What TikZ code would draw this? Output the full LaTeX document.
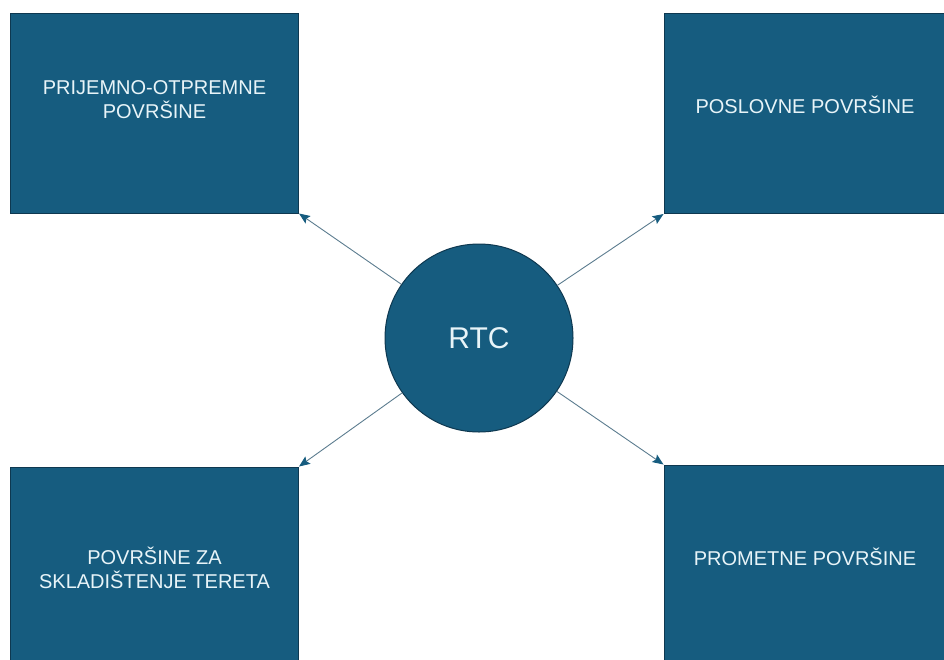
\documentclass[tikz,border=0pt]{standalone}
\usepackage{fontspec}
\setmainfont{Liberation Sans}
\usetikzlibrary{arrows.meta}
\definecolor{rtcblue}{RGB}{22,92,127}
\definecolor{rtcedge}{RGB}{14,56,80}
\definecolor{rtcline}{RGB}{92,124,143}
\definecolor{rtctext}{RGB}{232,244,248}
\tikzset{
  area/.style={draw=rtcedge,fill=rtcblue,line width=1pt,inner sep=0pt,
    minimum width=288pt,minimum height=200pt},
  areatext/.style={text=rtctext,align=center,font=\fontsize{20}{24}\selectfont},
  hub/.style={circle,draw=rtcedge,fill=rtcblue,line width=1pt,inner sep=0pt,
    minimum size=188pt,text=rtctext,font=\fontsize{30}{36}\selectfont},
  link/.style={draw=rtcline,line width=.9pt,
    -{Stealth[length=11pt,width=9pt,inset=2pt,color=rtcblue]}}
}
\begin{document}
\begin{tikzpicture}[x=1pt,y=-1pt]
\clip (0,0) rectangle (944,659);
\node[area] (prijem) at (154.5,113) {};
\node[area] (poslov) at (808,113.5) {};
\node[area] (sklad) at (154.5,567) {};
\node[area] (promet) at (808,565) {};
\node[areatext] (prijem-t) at (154.5,100) {PRIJEMNO-OTPREMNE\\POVRŠINE};
\node[areatext] (poslov-t) at (805,105) {POSLOVNE POVRŠINE};
\node[areatext] (sklad-t) at (154.5,568) {POVRŠINE ZA\\SKLADIŠTENJE TERETA};
\node[areatext] (promet-t) at (805,557) {PROMETNE POVRŠINE};
\node[hub] (rtc) at (479,338) {RTC};
\draw[link] (rtc) -- (prijem.south east);
\draw[link] (rtc) -- (poslov.south west);
\draw[link] (rtc) -- (sklad.north east);
\draw[link] (rtc) -- (promet.north west);
\end{tikzpicture}
\end{document}
